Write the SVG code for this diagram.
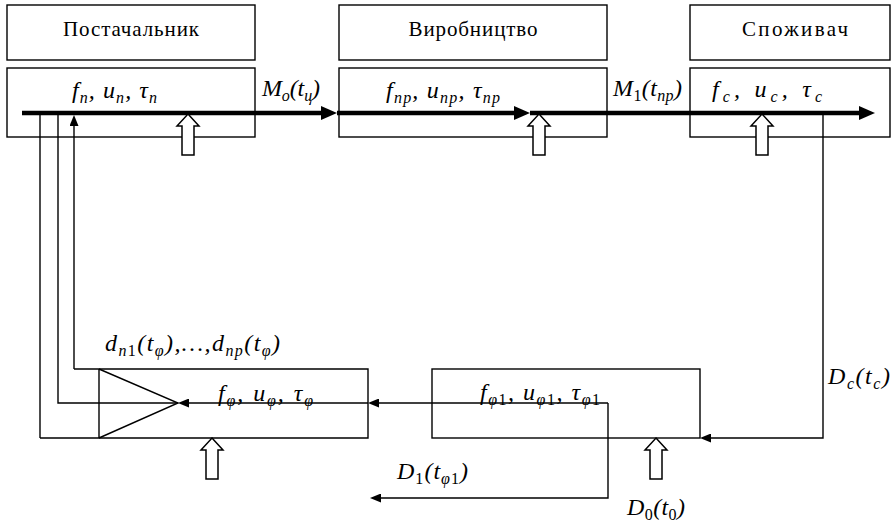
<svg xmlns="http://www.w3.org/2000/svg" width="894" height="522" viewBox="0 0 894 522">
<style>
.box{fill:none;stroke:#000;stroke-width:1.4}
.thin{fill:none;stroke:#000;stroke-width:1.4}
.thick{fill:none;stroke:#000;stroke-width:4.5}
.hollow{fill:#fff;stroke:#000;stroke-width:1.5}
.title{font-family:"Liberation Serif",serif;font-size:21px;text-anchor:middle}
.math{font-family:"Liberation Serif",serif;font-style:italic;font-size:24px}
.sub{font-size:16px}
.up{font-style:normal}
</style>
<defs>
<marker id="big" markerUnits="userSpaceOnUse" markerWidth="16" markerHeight="14" refX="0" refY="7" orient="auto"><path d="M0,0 L16,7 L0,14 z" fill="#000"/></marker>
<marker id="small" markerUnits="userSpaceOnUse" markerWidth="11" markerHeight="9" refX="0" refY="4.5" orient="auto"><path d="M0,0 L11,4.5 L0,9 z" fill="#000"/></marker>
<path id="hol" d="M0,0 L11,12 L6,12 L6,41 L-6,41 L-6,12 L-11,12 z"/>
</defs>

<g id="supplier-title"><rect class="box" x="7" y="5" width="248" height="55"/><text class="title" x="131" y="36" textLength="136">Постачальник</text></g>
<g id="production-title"><rect class="box" x="339" y="5" width="268" height="55"/><text class="title" x="473" y="36" textLength="129">Виробництво</text></g>
<g id="consumer-title"><rect class="box" x="690" y="5" width="200" height="55"/><text class="title" x="795" y="36" textLength="106">Споживач</text></g>

<g id="supplier"><rect class="box" x="7" y="68" width="248" height="69"/>
<text class="math" x="72" y="98" textLength="85">f<tspan class="sub" dy="5">п</tspan><tspan dy="-5">, u</tspan><tspan class="sub" dy="5">п</tspan><tspan dy="-5">, τ</tspan><tspan class="sub" dy="5">п</tspan></text></g>
<g id="production"><rect class="box" x="339" y="68" width="268" height="69"/>
<text class="math" x="386" y="98" textLength="114">f<tspan class="sub" dy="5">пр</tspan><tspan dy="-5">, u</tspan><tspan class="sub" dy="5">пр</tspan><tspan dy="-5">, τ</tspan><tspan class="sub" dy="5">пр</tspan></text></g>
<g id="consumer"><rect class="box" x="690" y="68" width="200" height="69"/>
<text class="math" x="712" y="97" textLength="110">f<tspan class="sub" dy="5">c</tspan><tspan dy="-5">, u</tspan><tspan class="sub" dy="5">c</tspan><tspan dy="-5">, τ</tspan><tspan class="sub" dy="5">c</tspan></text></g>

<g id="filter">
<path class="box" d="M74,369 H368 V438 H40"/>
<path class="thin" d="M99,369 V438 M99,369 L178,403 L99,438"/>
<text class="math" x="218" y="401" textLength="95">f<tspan class="sub" dy="5">φ</tspan><tspan dy="-5">, u</tspan><tspan class="sub" dy="5">φ</tspan><tspan dy="-5">, τ</tspan><tspan class="sub" dy="5">φ</tspan></text>
</g>
<g id="filter1"><rect class="box" x="432" y="369" width="268" height="69"/>
<text class="math" x="480" y="400" textLength="120">f<tspan class="sub" dy="5">φ<tspan class="up">1</tspan></tspan><tspan dy="-5">, u</tspan><tspan class="sub" dy="5">φ<tspan class="up">1</tspan></tspan><tspan dy="-5">, τ</tspan><tspan class="sub" dy="5">φ<tspan class="up">1</tspan></tspan></text></g>

<g id="connectors">
<line class="thick" x1="22" y1="113" x2="321" y2="113" marker-end="url(#big)"/>
<line class="thick" x1="337" y1="113" x2="514" y2="113" marker-end="url(#big)"/>
<line class="thick" x1="530" y1="113" x2="859" y2="113" marker-end="url(#big)"/>
<path class="thin" d="M40,113 V438"/>
<path class="thin" d="M58,113 V403 H178"/>
<path class="thin" d="M74,369 V126" marker-end="url(#small)"/>
<path class="thin" d="M608,403 H379" marker-end="url(#small)"/>
<path class="thin" d="M368,403 H189" marker-end="url(#small)"/>
<path class="thin" d="M608,403 V498 H381" marker-end="url(#small)"/>
<path class="thin" d="M823,113 V438 H711" marker-end="url(#small)"/>
<use href="#hol" class="hollow" x="188" y="114"/>
<use href="#hol" class="hollow" x="539" y="114"/>
<use href="#hol" class="hollow" x="762" y="114"/>
<use href="#hol" class="hollow" x="212" y="438"/>
<use href="#hol" class="hollow" x="656" y="438"/>
<text class="math" x="262" y="96" textLength="58">M<tspan class="sub" dy="5">o</tspan><tspan dy="-5">(t</tspan><tspan class="sub" dy="5">ц</tspan><tspan dy="-5">)</tspan></text>
<text class="math" x="613" y="96" textLength="69">M<tspan class="sub up" dy="5">1</tspan><tspan dy="-5">(t</tspan><tspan class="sub" dy="5">пр</tspan><tspan dy="-5">)</tspan></text>
<text class="math" x="105" y="351" textLength="175">d<tspan class="sub" dy="5">п<tspan class="up">1</tspan></tspan><tspan dy="-5">(t</tspan><tspan class="sub" dy="5">φ</tspan><tspan dy="-5">),…,d</tspan><tspan class="sub" dy="5">пр</tspan><tspan dy="-5">(t</tspan><tspan class="sub" dy="5">φ</tspan><tspan dy="-5">)</tspan></text>
<text class="math" x="828" y="384" textLength="62">D<tspan class="sub" dy="5">c</tspan><tspan dy="-5">(t</tspan><tspan class="sub" dy="5">c</tspan><tspan dy="-5">)</tspan></text>
<text class="math" x="397" y="479" textLength="71">D<tspan class="sub up" dy="5">1</tspan><tspan dy="-5">(t</tspan><tspan class="sub" dy="5">φ<tspan class="up">1</tspan></tspan><tspan dy="-5">)</tspan></text>
<text class="math" x="627" y="515" textLength="58">D<tspan class="sub up" dy="5">0</tspan><tspan dy="-5">(t</tspan><tspan class="sub up" dy="5">0</tspan><tspan dy="-5">)</tspan></text>
</g>
</svg>
